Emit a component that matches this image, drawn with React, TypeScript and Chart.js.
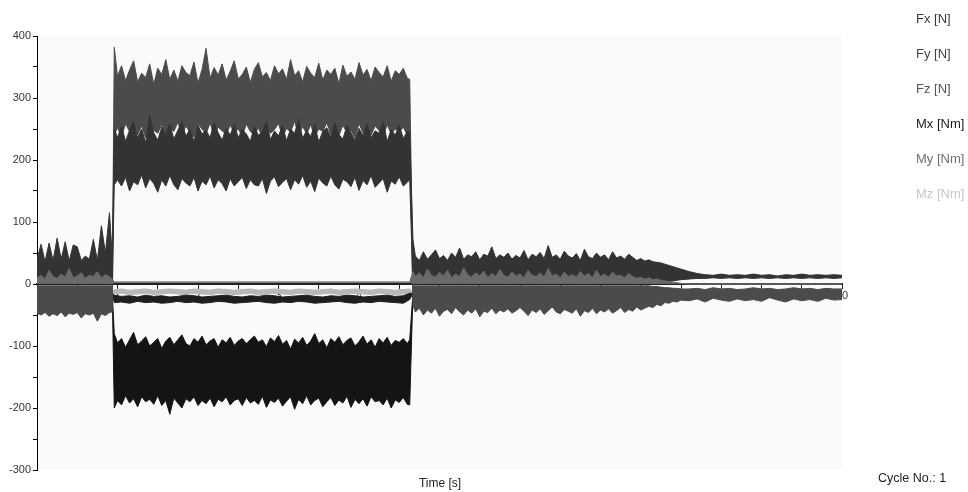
import { useEffect, useRef } from 'react';
import { Chart, registerables } from 'chart.js';

Chart.register(...registerables);

// ---- time grids [s] ----
const T_IDLE = [0, 0.05, 0.1, 0.15, 0.2, 0.25, 0.3, 0.35, 0.4, 0.45, 0.5, 0.55, 0.6, 0.65, 0.7, 0.75, 0.8, 0.85, 0.9, 0.935];
const T_LOAD = [
  0.96, 1.0, 1.05, 1.1, 1.15, 1.2, 1.25, 1.3, 1.35, 1.4, 1.45, 1.5, 1.55, 1.6, 1.65, 1.7, 1.75, 1.8, 1.85, 1.9,
  1.95, 2.0, 2.05, 2.1, 2.15, 2.2, 2.25, 2.3, 2.35, 2.4, 2.45, 2.5, 2.55, 2.6, 2.65, 2.7, 2.75, 2.8, 2.85, 2.9,
  2.95, 3.0, 3.05, 3.1, 3.15, 3.2, 3.25, 3.3, 3.35, 3.4, 3.45, 3.5, 3.55, 3.6, 3.65, 3.7, 3.75, 3.8, 3.85, 3.9,
  3.95, 4.0, 4.05, 4.1, 4.15, 4.2, 4.25, 4.3, 4.35, 4.4, 4.45, 4.5, 4.55, 4.6, 4.63,
];
const T_LOAD_COARSE = [
  0.96, 1.05, 1.15, 1.25, 1.35, 1.45, 1.55, 1.65, 1.75, 1.85, 1.95, 2.05, 2.15, 2.25, 2.35, 2.45, 2.55, 2.65, 2.75, 2.85,
  2.95, 3.05, 3.15, 3.25, 3.35, 3.45, 3.55, 3.65, 3.75, 3.85, 3.95, 4.05, 4.15, 4.25, 4.35, 4.45, 4.55, 4.63,
];
const T_UNLOAD = [
  4.67, 4.7, 4.75, 4.8, 4.85, 4.9, 4.95, 5.0, 5.05, 5.1, 5.15, 5.2, 5.25, 5.3, 5.35, 5.4, 5.45, 5.5, 5.55, 5.6,
  5.65, 5.7, 5.75, 5.8, 5.85, 5.9, 5.95, 6.0, 6.05, 6.1, 6.15, 6.2, 6.25, 6.3, 6.35, 6.4, 6.45, 6.5, 6.55, 6.6,
  6.65, 6.7, 6.75, 6.8, 6.85, 6.9, 6.95, 7.0, 7.05, 7.1, 7.15, 7.2, 7.25, 7.3, 7.35, 7.4, 7.45, 7.5, 7.55, 7.6,
  7.65, 7.7, 7.75, 7.8, 7.85, 7.9, 7.95, 8.0,
];
const T_REST = [8.1, 8.2, 8.3, 8.4, 8.5, 8.6, 8.7, 8.8, 8.9, 9.0, 9.1, 9.2, 9.3, 9.4, 9.5, 9.6, 9.7, 9.8, 9.9, 10.0];

// ---- Fz [N] envelope ----
const FZ_HI = [
  -3, -3, -3, -3, -3, -3, -3, -3, -3, -3, -3, -3, -3, -3, -3, -3, -3, -3, -3, -3,
  382, 335, 352, 328, 345, 360, 326, 340, 333, 355, 322, 348, 338, 362, 330, 345, 327, 352, 341, 336,
  358, 324, 346, 380, 332, 349, 337, 355, 329, 343, 360, 331, 338, 350, 325, 346, 357, 334, 341, 328,
  352, 339, 347, 330, 362, 336, 344, 326, 351, 340, 333, 356, 329, 345, 338, 348, 323, 353, 335, 342,
  330, 357, 337, 346, 328, 350, 341, 334, 352, 327, 344, 338, 348, 332, 330,
  -3, -3, -3, -3, -3, -3, -3, -3, -3, -3, -3, -3, -3, -3, -3, -3, -3, -3, -3, -3,
  -3, -3, -3, -3, -3, -3, -3, -3, -3, -3, -3, -3, -3, -3, -3, -3, -3, -3, -3, -3,
  -3, -3, -3, -3, -3, -3, -3, -3, -3, -3, -3, -3, -3, -3, -3, -3, -3, -3, -3, -3,
  -4, -4, -5, -6, -6, -7, -7, -8,
  -8, -7, -9, -6, -8, -7, -9, -8, -6, -8, -7, -9, -8, -6, -8, -7, -9, -7, -8, -8,
];
const FZ_LO = [
  -47, -50, -46, -52, -48, -51, -45, -53, -47, -49, -46, -55, -48, -50, -47, -60, -48, -51, -46, -45,
  240, 252, 238, 258, 246, 262, 241, 255, 236, 260, 248, 243, 257, 239, 252, 246, 261, 240, 255, 244,
  237, 258, 250, 242, 260, 238, 253, 247, 241, 256, 244, 250, 238, 258, 246, 240, 252, 236, 255, 243,
  249, 259, 237, 251, 245, 262, 240, 254, 242, 257, 238, 250, 246, 260, 241, 253, 239, 256, 244, 248,
  236, 259, 243, 251, 240, 255, 247, 238, 257, 242, 250, 245, 253, 240, 235,
  -35, -45, -39, -50, -42, -47, -39, -52, -44, -41, -48, -38, -45, -50, -42, -47, -40, -53, -44, -46,
  -39, -48, -42, -45, -40, -47, -43, -38, -44, -51, -42, -46, -40, -49, -43, -37, -45, -48, -41, -44,
  -47, -40, -52, -43, -46, -39, -48, -42, -45, -40, -47, -43, -38, -46, -41, -44, -37, -42, -39, -36,
  -38, -33, -35, -30, -31, -28, -29, -26,
  -27, -24, -29, -23, -26, -28, -24, -27, -25, -28, -22, -26, -29, -24, -27, -25, -28, -23, -26, -25,
];

// ---- Fx [N] envelope ----
const FX_HI = [
  40, 64, 36, 66, 38, 74, 40, 68, 37, 63, 60, 38, 45, 40, 72, 38, 94, 50, 115, 45,
  250, 236, 255, 230, 248, 262, 236, 250, 228, 272, 244, 232, 253, 240, 258, 234, 248, 262, 238, 250,
  230, 256, 242, 248, 236, 260, 244, 232, 252, 240, 258, 236, 249, 242, 230, 254, 240, 245, 262, 233,
  247, 239, 256, 231, 250, 243, 265, 235, 248, 238, 257, 229, 246, 252, 237, 260, 241, 234, 255, 244,
  232, 251, 239, 258, 236, 247, 243, 262, 230, 249, 240, 256, 235, 246, 245,
  72, 45, 38, 52, 40, 47, 55, 41, 46, 38, 50, 43, 58, 40, 47, 44, 52, 39, 48, 45,
  60, 41, 47, 43, 50, 40, 46, 42, 54, 39, 48, 44, 51, 41, 62, 43, 47, 40, 53, 45,
  42, 49, 38, 56, 44, 41, 50, 43, 47, 39, 52, 42, 45, 40, 48, 43, 38, 41, 37, 39,
  36, 35, 34, 32, 30, 28, 26, 24,
  20, 17, 15, 14, 16, 14, 15, 14, 16, 14, 15, 13, 15, 14, 16, 14, 15, 14, 15, 14,
];
const FX_LO = [
  1, 1, 1, 1, 1, 1, 1, 1, 1, 1, 1, 1, 1, 1, 1, 1, 1, 1, 1, 1,
  160, 168, 158, 172, 150, 165, 160, 176, 155, 170, 162, 148, 168, 158, 175, 160, 152, 170, 163, 158,
  172, 150, 166, 160, 174, 155, 168, 162, 150, 170, 158, 165, 172, 154, 168, 160, 158, 170, 146, 166,
  173, 157, 164, 170, 152, 168, 161, 175, 156, 166, 149, 171, 163, 158, 174, 160, 153, 169, 165, 157,
  172, 151, 167, 160, 175, 156, 163, 170, 148, 166, 161, 173, 158, 164, 168,
  1, 1, 1, 1, 1, 1, 1, 1, 1, 1, 1, 1, 1, 1, 1, 1, 1, 1, 1, 1,
  1, 1, 1, 1, 1, 1, 1, 1, 1, 1, 1, 1, 1, 1, 1, 1, 1, 1, 1, 1,
  1, 1, 1, 1, 1, 1, 1, 1, 1, 1, 1, 1, 1, 1, 1, 1, 1, 1, 1, 1,
  1, 1, 2, 3, 4, 5, 6, 7,
  8, 9, 9, 10, 9, 10, 9, 10, 9, 10, 9, 10, 9, 10, 9, 10, 9, 10, 9, 10,
];

// ---- Mx [Nm] envelope (active while loaded) ----
const MX_T = [0, 0.935, ...T_LOAD, 4.67, 10];
const MX_HI = [
  -15, -15,
  -80, -95, -88, -102, -90, -78, -98, -92, -85, -100, -94, -88, -104, -92, -86, -98, -90, -82, -96, -100,
  -88, -94, -84, -98, -92, -88, -102, -90, -95, -86, -99, -92, -88, -96, -90, -84, -94, -90, -101, -87,
  -93, -83, -97, -91, -105, -89, -95, -86, -99, -92, -80, -96, -90, -103, -88, -94, -85, -98, -91, -87,
  -100, -93, -84, -97, -90, -102, -88, -95, -86, -99, -91, -94, -88, -96, -90,
  -15, -15,
];
const MX_LO = [
  -15, -15,
  -200, -188, -195, -180, -192, -185, -198, -182, -190, -186, -194, -180, -196, -188, -210, -184, -192, -200, -185, -190,
  -182, -196, -188, -193, -184, -198, -186, -190, -182, -195, -188, -185, -196, -183, -192, -188, -194, -181, -199, -187,
  -191, -184, -197, -189, -182, -202, -186, -193, -180, -195, -188, -184, -198, -190, -183, -196, -187, -192, -181, -199,
  -186, -193, -185, -197, -182, -190, -188, -195, -184, -200, -187, -191, -183, -194, -195,
  -15, -15,
];

// ---- Fy [N] and Mz [Nm] envelopes (small, active while loaded) ----
const SMALL_T = [0, 0.935, ...T_LOAD_COARSE, 4.67, 10];
const FY_HI = [
  -15, -15,
  -18, -20, -19, -21, -18, -20, -19, -21, -20, -18, -19, -21, -20, -19, -18, -20, -21, -19, -20, -18,
  -19, -21, -20, -19, -18, -20, -21, -19, -20, -18, -19, -21, -20, -19, -18, -20, -19, -15,
  -15, -15,
];
const FY_LO = [
  -15, -15,
  -30, -29, -31, -28, -30, -29, -31, -30, -28, -30, -29, -31, -30, -28, -29, -31, -30, -29, -28, -30,
  -31, -29, -30, -28, -29, -31, -30, -29, -28, -30, -31, -29, -30, -28, -29, -30, -31, -25,
  -15, -15,
];
const MZ_HI = [
  -15, -15,
  -9, -8, -10, -9, -8, -10, -9, -8, -9, -10, -8, -9, -10, -8, -9, -10, -9, -8, -10, -9,
  -8, -9, -10, -8, -9, -10, -9, -8, -10, -9, -8, -9, -10, -8, -9, -10, -9, -8,
  -15, -15,
];
const MZ_LO = [
  -15, -15,
  -16, -15, -17, -16, -15, -17, -16, -15, -16, -17, -15, -16, -17, -15, -16, -17, -16, -15, -17, -16,
  -15, -16, -17, -15, -16, -17, -16, -15, -17, -16, -15, -16, -17, -15, -16, -17, -16, -15,
  -15, -15,
];

// ---- My [Nm] envelope ----
const MY_T = [...T_IDLE, 0.96, 4.63, ...T_UNLOAD, 8.1, 10];
const MY_HI = [
  10, 14, 8, 22, 12, 9, 16, 11, 25, 10, 13, 18, 9, 14, 12, 20, 10, 15, 12, 8,
  3, 3,
  20, 12, 18, 10, 24, 14, 11, 19, 13, 22, 10, 16, 12, 26, 15, 11, 18, 13, 21, 10,
  17, 12, 23, 14, 11, 19, 13, 16, 10, 22, 14, 12, 18, 11, 25, 13, 16, 10, 19, 12,
  15, 11, 20, 13, 17, 10, 22, 12, 16, 11, 19, 13, 14, 10, 17, 12, 9, 11, 8, 10,
  7, 8, 6, 5, 4, 3, 2, 1,
  0, 0,
];
const MY_LO = [
  1, 1, 1, 1, 1, 1, 1, 1, 1, 1, 1, 1, 1, 1, 1, 1, 1, 1, 1, 1,
  3, 3,
  1, 1, 1, 1, 1, 1, 1, 1, 1, 1, 1, 1, 1, 1, 1, 1, 1, 1, 1, 1,
  1, 1, 1, 1, 1, 1, 1, 1, 1, 1, 1, 1, 1, 1, 1, 1, 1, 1, 1, 1,
  1, 1, 1, 1, 1, 1, 1, 1, 1, 1, 1, 1, 1, 1, 1, 1, 1, 1, 1, 1,
  1, 1, 1, 1, 1, 1, 1, 1,
  0, 0,
];

const FULL_T = [...T_IDLE, ...T_LOAD, ...T_UNLOAD, ...T_REST];

const LEGEND = [
  { label: 'Fx [N]', color: '#3a3a3a' },
  { label: 'Fy [N]', color: '#444444' },
  { label: 'Fz [N]', color: '#555555' },
  { label: 'Mx [Nm]', color: '#1c1c1c' },
  { label: 'My [Nm]', color: '#707070' },
  { label: 'Mz [Nm]', color: '#c6c6c6' },
];

const Y_MIN = -300;
const Y_MAX = 400;
const X_MIN = 0;
const X_MAX = 10;

const FONT = "'Liberation Sans', Arial, Helvetica, sans-serif";

function band(name: string, t: number[], hi: number[], lo: number[], color: string, order: number) {
  const common = {
    borderColor: color,
    backgroundColor: color,
    borderWidth: 1,
    pointRadius: 0,
    tension: 0,
    order,
  };
  return [
    { ...common, label: name, data: t.map((x, i) => ({ x, y: hi[i] })), fill: '+1' },
    { ...common, label: name + ' lo', data: t.map((x, i) => ({ x, y: lo[i] })), fill: false },
  ];
}

const plotBg = {
  id: 'plotBg',
  beforeDraw(chart: any) {
    const { ctx, chartArea: a } = chart;
    ctx.save();
    ctx.fillStyle = '#fafafa';
    ctx.fillRect(a.left, a.top, a.right - a.left, a.bottom - a.top);
    ctx.restore();
  },
};

export default function App() {
  const ref = useRef<HTMLCanvasElement | null>(null);

  useEffect(() => {
    if (!ref.current) return;
    const datasets = [
      ...band('Mz [Nm]', SMALL_T, MZ_HI, MZ_LO, '#b8b8b8', 6),
      ...band('Fy [N]', SMALL_T, FY_HI, FY_LO, '#1e1e1e', 5),
      ...band('Mx [Nm]', MX_T, MX_HI, MX_LO, '#141414', 4),
      ...band('Fz [N]', FULL_T, FZ_HI, FZ_LO, '#4b4b4b', 3),
      ...band('Fx [N]', FULL_T, FX_HI, FX_LO, '#333333', 2),
      ...band('My [Nm]', MY_T, MY_HI, MY_LO, '#6a6a6a', 1),
    ];
    const chart = new Chart(ref.current, {
      type: 'line',
      data: { datasets } as any,
      plugins: [plotBg],
      options: {
        responsive: false,
        animation: false,
        devicePixelRatio: 1,
        layout: { padding: { top: 36, right: 126, bottom: 22, left: 0 } },
        plugins: { legend: { display: false }, tooltip: { enabled: false } },
        scales: {
          x: {
            type: 'linear',
            min: X_MIN,
            max: X_MAX,
            position: { y: 0 } as any,
            border: { color: '#222', width: 2 },
            grid: { drawOnChartArea: false, tickLength: 4, color: '#222' },
            ticks: {
              stepSize: 0.5,
              autoSkip: false,
              maxRotation: 0,
              padding: 1,
              color: '#333',
              font: { family: FONT, size: 11 },
              callback: (v: any) => (Number.isInteger(v) && v > 0 ? String(v) : ''),
            },
          },
          y: {
            type: 'linear',
            min: Y_MIN,
            max: Y_MAX,
            position: 'left',
            border: { color: '#000', width: 1 },
            grid: { drawOnChartArea: false, tickLength: 4, color: '#000' },
            ticks: {
              stepSize: 50,
              autoSkip: false,
              padding: 2,
              color: '#333',
              font: { family: FONT, size: 11 },
              callback: (v: any) => (v % 100 === 0 ? String(v) : ''),
            },
            afterFit: (s: any) => {
              s.width = 37;
            },
          },
        },
      } as any,
    });
    return () => chart.destroy();
  }, []);

  const text: React.CSSProperties = {
    position: 'absolute',
    fontFamily: FONT,
    whiteSpace: 'nowrap',
    lineHeight: '16px',
  };

  return (
    <div style={{ position: 'fixed', left: 0, top: 0, width: 968, height: 492, background: '#fff', overflow: 'hidden' }}>
      <canvas ref={ref} width={968} height={492} style={{ position: 'absolute', left: 0, top: 0, width: 968, height: 492 }} />
      {LEGEND.map((l, i) => (
        <div key={l.label} style={{ ...text, left: 916, top: 11 + i * 35, fontSize: 13, color: l.color }}>
          {l.label}
        </div>
      ))}
      <div style={{ ...text, left: 340, width: 200, textAlign: 'center', top: 475, fontSize: 12, color: '#222' }}>Time [s]</div>
      <div style={{ ...text, left: 878, top: 470, fontSize: 12.5, color: '#222' }}>Cycle No.: 1</div>
    </div>
  );
}
